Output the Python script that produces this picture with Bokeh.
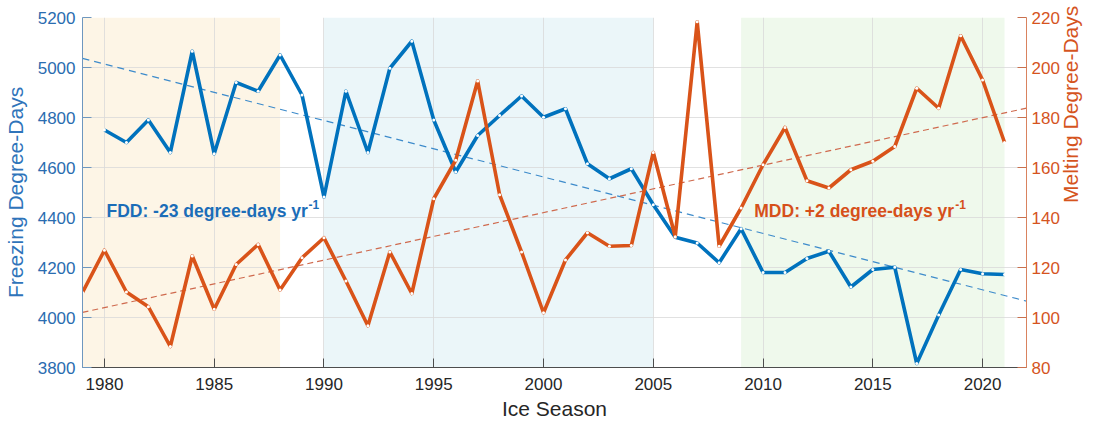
import math
import numpy as np
from bokeh.plotting import figure
from bokeh.models import Range1d, LinearAxis, FixedTicker
from bokeh.core.properties import value
from bokeh.embed import file_html
from bokeh.resources import INLINE

# ---- data ----
fdd_years = list(range(1980, 2022))
fdd = [4750, 4700, 4790, 4660, 5065, 4655, 4940, 4905, 5050, 4890,
       4482, 4905, 4660, 4997, 5105, 4790, 4582, 4728, 4808, 4886,
       4801, 4835, 4615, 4555, 4595, 4451, 4321, 4298, 4219, 4355,
       4180, 4180, 4236, 4265, 4122, 4192, 4201, 3816, 4010, 4192,
       4175, 4172]
mdd_years = list(range(1979, 2022))
mdd = [110, 126.9, 110.2, 104.3, 88.4, 124.6, 103.3, 121.2, 129.2, 111,
       123.9, 131.9, 114.6, 96.7, 126.2, 109.6, 147.5, 162.9, 194.6, 149.1,
       126.2, 101.9, 123, 133.9, 128.5, 128.8, 166, 132.3, 218.3, 128.5,
       143.8, 161.1, 176, 154.7, 151.8, 159.1, 162.5, 168.4, 191.7, 183.7,
       212.7, 195, 170]

shade_start = [1979, 1990, 2009]
shade_end = [1988, 2005, 2021]
shade_colors = ["#FDF5E6", "#EBF6F9", "#EFF9EC"]

x_ticks = [1980, 1985, 1990, 1995, 2000, 2005, 2010, 2015, 2020]
fdd_ticks = [3800, 4000, 4200, 4400, 4600, 4800, 5000, 5200]
mdd_ticks = [80, 100, 120, 140, 160, 180, 200, 220]

fdd_label = "FDD: -23 degree-days yr"
mdd_label = "MDD: +2 degree-days yr"
sup_label = "-1"
right_title = "Melting Degree-Days"

BLUE = "#0072BD"
ORANGE = "#D95319"
FONT = "Liberation Sans"

x_lo, x_hi = 1979, 2022
p = figure(width=1096, height=422, output_backend="svg", toolbar_location=None,
           x_range=Range1d(x_lo, x_hi), y_range=Range1d(3800, 5200),
           min_border_left=78, min_border_top=17, min_border_right=0, min_border_bottom=0)
p.extra_y_ranges = {"mdd": Range1d(80, 220)}
p.outline_line_color = None
p.background_fill_color = "white"

# shaded periods
p.quad(left=shade_start, right=shade_end, bottom=3800, top=5200,
       fill_color=shade_colors, line_color=None, level="image")

# grid
p.xgrid.ticker = FixedTicker(ticks=x_ticks)
p.ygrid.ticker = FixedTicker(ticks=fdd_ticks)
for g in (p.xgrid[0], p.ygrid[0]):
    g.grid_line_color = "#DADADA"
    g.grid_line_width = 1
    g.grid_line_alpha = 0.8

# trend lines (least squares fits)
tx = np.array([x_lo, x_hi], dtype=float)
cf = np.polyfit(fdd_years, fdd, 1)
cm = np.polyfit(mdd_years, mdd, 1)
p.line(tx, np.polyval(cf, tx), line_color="#3D8BCB", line_width=1.2, line_dash="7 5")
p.line(tx, np.polyval(cm, tx), line_color="#CF6A4E", line_width=1.2, line_dash="6 4", y_range_name="mdd")

# series
p.line(fdd_years, fdd, line_color=BLUE, line_width=3.6, line_join="round")
p.scatter(fdd_years, fdd, size=3, fill_color="white", line_color=None)
p.line(mdd_years, mdd, line_color=ORANGE, line_width=3.6, line_join="round", y_range_name="mdd")
p.scatter(mdd_years, mdd, size=3, fill_color="white", line_color=None, y_range_name="mdd")

# annotations
lab_y = 4425
p.text(x=[1980], y=[lab_y], text=[fdd_label], text_font=value(FONT), text_font_size="17.5px",
       text_font_style="bold", text_color="#1B6DB8", text_baseline="middle", text_align="left", x_offset=2)
p.text(x=[1980], y=[lab_y], text=[sup_label], text_font=value(FONT), text_font_size="12px",
       text_font_style="bold", text_color="#1B6DB8", text_baseline="middle", text_align="left",
       x_offset=204, y_offset=-7)
p.text(x=[2009.6], y=[lab_y], text=[mdd_label], text_font=value(FONT), text_font_size="17.5px",
       text_font_style="bold", text_color="#D6501A", text_baseline="middle", text_align="left")
p.text(x=[2009.6], y=[lab_y], text=[sup_label], text_font=value(FONT), text_font_size="12px",
       text_font_style="bold", text_color="#D6501A", text_baseline="middle", text_align="left",
       x_offset=201, y_offset=-7)

# axes
xa = p.xaxis[0]
xa.ticker = FixedTicker(ticks=x_ticks)
xa.axis_label = "Ice Season"
xa.axis_label_text_font = FONT
xa.axis_label_text_font_size = "21px"
xa.axis_label_text_font_style = "normal"
xa.axis_label_text_color = "#262626"
xa.axis_label_standoff = 4
xa.major_label_text_font = FONT
xa.major_label_text_font_size = "17px"
xa.major_label_text_color = "#262626"
xa.major_label_standoff = 10
xa.axis_line_color = "#4D4D4D"
xa.major_tick_line_color = "#4D4D4D"
xa.major_tick_in = 9
xa.major_tick_out = 0
xa.minor_tick_line_color = None

ya = p.yaxis[0]
ya.ticker = FixedTicker(ticks=fdd_ticks)
ya.axis_label = "Freezing Degree-Days"
ya.axis_label_text_font = FONT
ya.axis_label_text_font_size = "21px"
ya.axis_label_text_font_style = "normal"
ya.axis_label_text_color = "#2F74BA"
ya.axis_label_standoff = 8
ya.major_label_text_font = FONT
ya.major_label_text_font_size = "17px"
ya.major_label_text_color = "#2A6CB0"
ya.major_label_standoff = 7
ya.axis_line_color = "#6E97BF"
ya.major_tick_line_color = "#6E97BF"
ya.major_tick_in = 9
ya.major_tick_out = 0
ya.minor_tick_line_color = None

ra = LinearAxis(y_range_name="mdd", ticker=FixedTicker(ticks=mdd_ticks))
ra.major_label_text_font = FONT
ra.major_label_text_font_size = "17px"
ra.major_label_text_color = "#D5541E"
ra.major_label_standoff = 5
ra.axis_line_color = "#D9825E"
ra.major_tick_line_color = "#C8704E"
ra.major_tick_in = 9
ra.major_tick_out = 0
ra.minor_tick_line_color = None
p.add_layout(ra, "right")

# right axis title, reading bottom to top like the left one
rt = LinearAxis(y_range_name="mdd", ticker=FixedTicker(ticks=[150]),
                major_label_overrides={150: right_title})
rt.major_label_orientation = math.pi / 2
rt.major_label_text_font = FONT
rt.major_label_text_font_size = "21px"
rt.major_label_text_color = "#D5541E"
rt.major_label_standoff = 2
rt.axis_line_color = None
rt.major_tick_line_color = None
rt.minor_tick_line_color = None
p.add_layout(rt, "right")

open("out.html", "w").write(file_html(p, INLINE))
